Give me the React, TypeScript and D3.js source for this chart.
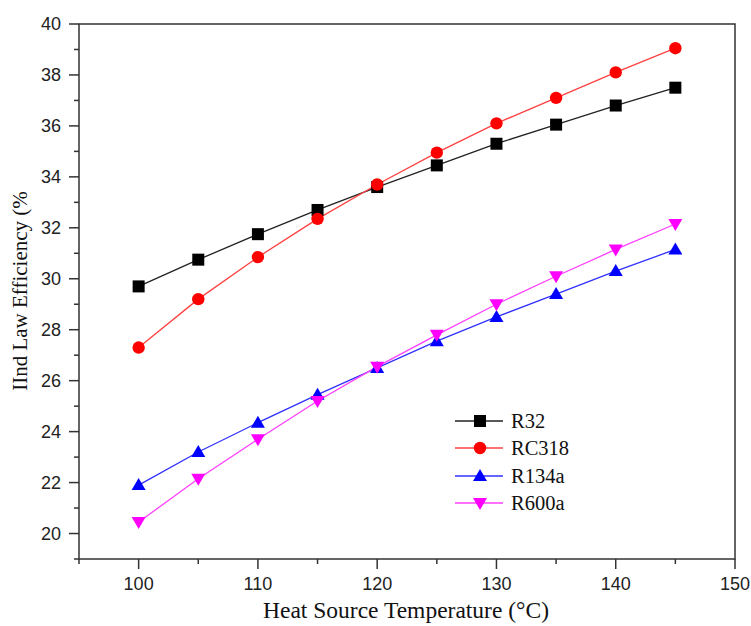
import React from "react";
import * as d3 from "d3";

const temps = [100, 105, 110, 115, 120, 125, 130, 135, 140, 145];
const r32 = [29.7, 30.75, 31.75, 32.7, 33.6, 34.45, 35.3, 36.05, 36.8, 37.5];
const rc318 = [27.3, 29.2, 30.85, 32.35, 33.7, 34.95, 36.1, 37.1, 38.1, 39.05];
const r134a = [21.9, 23.2, 24.35, 25.45, 26.5, 27.55, 28.5, 29.4, 30.3, 31.15];
const r600a = [20.45, 22.15, 23.7, 25.2, 26.55, 27.8, 29.0, 30.1, 31.15, 32.15];
const seriesNames = ["R32", "RC318", "R134a", "R600a"];
const xTicks = [100, 110, 120, 130, 140, 150];
const yTicks = [20, 22, 24, 26, 28, 30, 32, 34, 36, 38, 40];

const W = 751, H = 626;
const L = 79, R = 735, T = 24, B = 559;

const colors = ["#000000", "#ff0000", "#0000ff", "#ff00ff"];
const lineColors = ["#222222", "#ff4040", "#3030ff", "#ff40ff"];
const shapes = ["square", "circle", "up", "down"];

function Marker({ shape, x, y, color }: { shape: string; x: number; y: number; color: string }) {
  if (shape === "square") return <rect x={x - 6} y={y - 6} width={12} height={12} fill={color} />;
  if (shape === "circle") return <circle cx={x} cy={y} r={6.2} fill={color} />;
  if (shape === "up") return <path d={`M${x},${y - 7} L${x + 7},${y + 5} L${x - 7},${y + 5} Z`} fill={color} />;
  return <path d={`M${x},${y + 7} L${x + 7},${y - 5} L${x - 7},${y - 5} Z`} fill={color} />;
}

export default function App() {
  const x = d3.scaleLinear().domain([95, 150]).range([L, R]);
  const y = d3.scaleLinear().domain([19, 40]).range([B, T]);
  const data = [r32, rc318, r134a, r600a];
  const line = d3.line<number>().x((_, i) => x(temps[i])).y((d) => y(d));
  const xMinor = d3.range(95, 151, 5).filter((v) => !xTicks.includes(v));
  const yMinor = d3.range(19, 40, 2);
  const axisColor = "#333333";
  const tickFont = "'Liberation Sans', Arial, sans-serif";
  const titleFont = "'Liberation Serif', 'Times New Roman', serif";
  const legendY = [421, 448, 476, 503];
  return (
    <svg width={W} height={H} style={{ position: "absolute", left: 0, top: 0 }}>
      <rect x={0} y={0} width={W} height={H} fill="#fff" />
      {data.map((s, k) => (
        <path key={k} d={line(s) || ""} fill="none" stroke={lineColors[k]} strokeWidth={1.3} />
      ))}
      {data.map((s, k) =>
        s.map((v, i) => <Marker key={k + "-" + i} shape={shapes[k]} x={x(temps[i])} y={y(v)} color={colors[k]} />)
      )}
      <rect x={L} y={T} width={R - L} height={B - T} fill="none" stroke={axisColor} strokeWidth={1.5} />
      {xTicks.map((t) => (
        <g key={"xt" + t}>
          <line x1={x(t)} x2={x(t)} y1={B} y2={B + 10} stroke={axisColor} strokeWidth={1.5} />
          <text x={x(t)} y={590} textAnchor="middle" fontFamily={tickFont} fontSize={18} fill="#222">{t}</text>
        </g>
      ))}
      {xMinor.map((t) => (
        <line key={"xm" + t} x1={x(t)} x2={x(t)} y1={B} y2={B + 5} stroke={axisColor} strokeWidth={1.5} />
      ))}
      {yTicks.map((t) => (
        <g key={"yt" + t}>
          <line x1={L - 10} x2={L} y1={y(t)} y2={y(t)} stroke={axisColor} strokeWidth={1.5} />
          <text x={61} y={y(t) + 6} textAnchor="end" fontFamily={tickFont} fontSize={18} fill="#222">{t}</text>
        </g>
      ))}
      {yMinor.map((t) => (
        <line key={"ym" + t} x1={L - 5} x2={L} y1={y(t)} y2={y(t)} stroke={axisColor} strokeWidth={1.5} />
      ))}
      <text x={406} y={618} textAnchor="middle" fontFamily={titleFont} fontSize={23.5} fill="#111">
        Heat Source Temperature (°C)
      </text>
      <text transform={`translate(27,291) rotate(-90)`} textAnchor="middle" fontFamily={titleFont} fontSize={21} fill="#111">
        IInd Law Efficiency (%
      </text>
      {seriesNames.map((n, k) => (
        <g key={"lg" + n}>
          <line x1={455} x2={503} y1={legendY[k]} y2={legendY[k]} stroke={lineColors[k]} strokeWidth={1.3} />
          <Marker shape={shapes[k]} x={480} y={legendY[k]} color={colors[k]} />
          <text x={511} y={legendY[k] + 7} fontFamily={titleFont} fontSize={20.5} fill="#111">{n}</text>
        </g>
      ))}
    </svg>
  );
}
